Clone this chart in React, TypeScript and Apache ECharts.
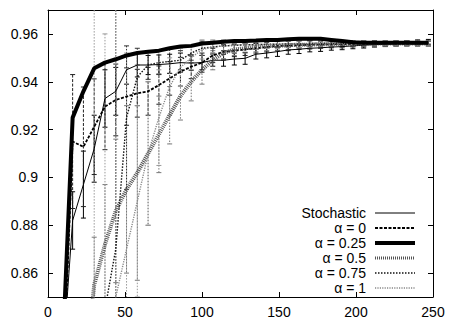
import React, { useEffect, useRef } from 'react';
import * as echarts from 'echarts';

const X = [9, 16, 23, 30, 37, 44, 51, 58, 65, 72, 79, 86, 93, 100, 107, 114, 121, 128, 135, 142, 149, 156, 163, 170, 177, 184, 191, 198, 205, 212, 219, 226, 233, 240, 247];

const STOCH = [0.818, 0.882, 0.897, 0.912, 0.933, 0.936, 0.945, 0.947, 0.947, 0.9472, 0.9475, 0.948, 0.9478, 0.948, 0.949, 0.949, 0.9495, 0.9498, 0.9515, 0.952, 0.9526, 0.9533, 0.9536, 0.954, 0.9542, 0.9545, 0.9547, 0.955, 0.9553, 0.9555, 0.9557, 0.956, 0.9562, 0.9565, 0.9567];
const STOCH_ERR = [0, 0.012, 0.014, 0.014, 0.012, 0.01, 0.006, 0.005, 0.004, 0.004, 0.004, 0.004, 0.003, 0.003, 0.0025, 0.0025, 0.0025, 0.0025, 0.002, 0.002, 0.002, 0.0018, 0.0018, 0.0015, 0.0015, 0.0013, 0.0013, 0.0012, 0.0012, 0.001, 0.001, 0.001, 0.001, 0.001, 0.001];

const A0 = [0.80, 0.915, 0.9128, 0.9212, 0.9296, 0.9324, 0.9338, 0.9352, 0.936, 0.9386, 0.9414, 0.9442, 0.9463, 0.948, 0.951, 0.9525, 0.953, 0.9535, 0.954, 0.9545, 0.955, 0.955, 0.9553, 0.9555, 0.9555, 0.9557, 0.9557, 0.9558, 0.9558, 0.956, 0.956, 0.956, 0.956, 0.956, 0.956];
const A0_ERR = [0, 0.028, 0.025, 0.02, 0.018, 0.015, 0.012, 0.01, 0.01, 0.008, 0.007, 0.006, 0.005, 0.004, 0.003, 0.003, 0.0025, 0.0025, 0.002, 0.002, 0.002, 0.002, 0.0018, 0.0018, 0.0015, 0.0015, 0.0015, 0.0012, 0.0012, 0.0012, 0.001, 0.001, 0.001, 0.001, 0.001];

const A025 = [0.82, 0.925, 0.936, 0.9456, 0.948, 0.9494, 0.951, 0.952, 0.9525, 0.953, 0.954, 0.9547, 0.955, 0.956, 0.9563, 0.9567, 0.957, 0.957, 0.9572, 0.9575, 0.9575, 0.9578, 0.958, 0.958, 0.958, 0.9575, 0.957, 0.9565, 0.9563, 0.9563, 0.9563, 0.9563, 0.9563, 0.9563, 0.9563];

const A05 = [0.72, 0.76, 0.81, 0.855, 0.872, 0.886, 0.895, 0.902, 0.91, 0.918, 0.926, 0.934, 0.94, 0.945, 0.949, 0.952, 0.9535, 0.954, 0.9545, 0.955, 0.955, 0.9553, 0.9555, 0.9555, 0.9557, 0.9557, 0.9558, 0.9558, 0.956, 0.956, 0.956, 0.956, 0.956, 0.956, 0.956];
const A05_ERR = [0, 0, 0.02, 0.02, 0.025, 0.03, 0.035, 0.045, 0.03, 0.016, 0.012, 0.01, 0.008, 0.006, 0.004, 0.003, 0.0025, 0.002, 0.002, 0.002, 0.0018, 0.0018, 0.0015, 0.0015, 0.0015, 0.0012, 0.0012, 0.0012, 0.001, 0.001, 0.001, 0.001, 0.001, 0.001, 0.001];

const A075 = [0.70, 0.75, 0.78, 0.82, 0.845, 0.87, 0.925, 0.942, 0.947, 0.948, 0.9485, 0.949, 0.952, 0.954, 0.9545, 0.955, 0.9552, 0.9555, 0.9555, 0.9557, 0.9557, 0.9558, 0.9558, 0.956, 0.956, 0.956, 0.956, 0.956, 0.956, 0.956, 0.956, 0.956, 0.956, 0.956, 0.956];
const A075_ERR = [0, 0, 0, 0, 0, 0.11, 0.03, 0.012, 0.006, 0.005, 0.005, 0.004, 0.003, 0.003, 0.0025, 0.002, 0.002, 0.002, 0.0018, 0.0018, 0.0015, 0.0015, 0.0015, 0.0012, 0.0012, 0.0012, 0.001, 0.001, 0.001, 0.001, 0.001, 0.001, 0.001, 0.001, 0.001];

const A1 = [0.70, 0.72, 0.75, 0.78, 0.82, 0.85, 0.87, 0.89, 0.91, 0.925, 0.938, 0.946, 0.95, 0.9535, 0.9545, 0.955, 0.9553, 0.9555, 0.9555, 0.9557, 0.9557, 0.9558, 0.9558, 0.956, 0.956, 0.956, 0.956, 0.956, 0.956, 0.956, 0.956, 0.956, 0.956, 0.956, 0.956];
const A1_ERR = [0, 0, 0, 0.2, 0.14, 0.13, 0.082, 0.04, 0.03, 0.02, 0.012, 0.008, 0.005, 0.004, 0.003, 0.0025, 0.002, 0.002, 0.002, 0.0018, 0.0018, 0.0015, 0.0015, 0.0015, 0.0012, 0.0012, 0.0012, 0.001, 0.001, 0.001, 0.001, 0.001, 0.001, 0.001, 0.001];

const Y_TICKS = [0.86, 0.88, 0.9, 0.92, 0.94, 0.96];
const X_MIN = 0, X_MAX = 250, X_STEP = 50;
const Y_MIN = 0.85, Y_MAX = 0.97;

const FONT = '"Liberation Sans", Arial, Helvetica, sans-serif';

type Sty = { name: string; values: number[]; err: number[] | null; color: string; errColor: string; width: number; dash: number[] | null; legendWidth: number };

const SERIES: Sty[] = [
  { name: 'Stochastic', values: STOCH, err: STOCH_ERR, color: '#000', errColor: '#000', width: 1, dash: null, legendWidth: 1 },
  { name: 'α = 0', values: A0, err: A0_ERR, color: '#000', errColor: '#222', width: 1.8, dash: [3, 1.5], legendWidth: 2 },
  { name: 'α = 0.25', values: A025, err: null, color: '#000', errColor: '#000', width: 4, dash: null, legendWidth: 4 },
  { name: 'α = 0.5', values: A05, err: A05_ERR, color: '#555', errColor: '#777', width: 4, dash: [1, 1], legendWidth: 3 },
  { name: 'α = 0.75', values: A075, err: A075_ERR, color: '#111', errColor: '#333', width: 1.4, dash: [1.5, 1.5], legendWidth: 1.5 },
  { name: 'α = 1', values: A1, err: A1_ERR, color: '#888', errColor: '#999', width: 1.4, dash: [1.2, 1.2], legendWidth: 1.5 },
];

function buildOption() {
  const series: any[] = [];
  SERIES.forEach((s) => {
    if (s.err) {
      series.push({
        name: s.name + ' err',
        type: 'custom',
        clip: true,
        silent: true,
        xAxisIndex: 0,
        yAxisIndex: 0,
        data: X.map((x, i) => [x, s.values[i], s.err![i]]),
        encode: { x: 0, y: 1 },
        renderItem: (params: any, api: any) => {
          const x = api.value(0);
          const v = api.value(1);
          const e = api.value(2);
          if (!e) return null;
          const top = api.coord([x, v + e]);
          const bot = api.coord([x, v - e]);
          const cap = 2.5;
          const style: any = { stroke: s.errColor, lineWidth: 1, fill: 'none' };
          if (s.dash) style.lineDash = s.dash.map((d) => Math.max(d, 1.5));
          const capStyle: any = { stroke: s.errColor, lineWidth: 1 };
          return {
            type: 'group',
            children: [
              { type: 'line', shape: { x1: top[0], y1: top[1], x2: bot[0], y2: bot[1] }, style },
              { type: 'line', shape: { x1: top[0] - cap, y1: top[1], x2: top[0] + cap, y2: top[1] }, style: capStyle },
              { type: 'line', shape: { x1: bot[0] - cap, y1: bot[1], x2: bot[0] + cap, y2: bot[1] }, style: capStyle },
            ],
          };
        },
      });
    }
  });
  SERIES.forEach((s) => {
    series.push({
      name: s.name,
      type: 'line',
      xAxisIndex: 0,
      yAxisIndex: 0,
      symbol: 'none',
      showSymbol: false,
      clip: true,
      data: X.map((x, i) => [x, s.values[i]]),
      lineStyle: { color: s.color, width: s.width, type: s.dash ? s.dash : 'solid', cap: 'butt' },
      itemStyle: { color: s.color },
      z: s.width >= 4 && s.color === '#000' ? 4 : 3,
    });
  });

  const axisLineStyle = { lineStyle: { color: '#000', width: 1 } };
  const tickStyle = { inside: true, length: 5, lineStyle: { color: '#000', width: 1 } };

  return {
    animation: false,
    backgroundColor: '#fff',
    grid: { left: 48, top: 10, right: 16, bottom: 22, containLabel: false },
    xAxis: [
      {
        type: 'value', position: 'bottom', min: X_MIN, max: X_MAX, interval: X_STEP,
        axisLine: { show: true, onZero: false, ...axisLineStyle },
        axisTick: { show: true, ...tickStyle },
        axisLabel: { show: true, color: '#000', fontSize: 14, fontFamily: FONT, margin: 8 },
        splitLine: { show: false },
      },
      {
        type: 'value', position: 'top', min: X_MIN, max: X_MAX, interval: X_STEP,
        axisLine: { show: true, onZero: false, ...axisLineStyle },
        axisTick: { show: true, ...tickStyle },
        axisLabel: { show: false },
        splitLine: { show: false },
      },
    ],
    yAxis: [
      {
        type: 'value', position: 'left', min: Y_MIN, max: Y_MAX,
        axisLine: { show: true, onZero: false, ...axisLineStyle },
        axisTick: { show: true, ...tickStyle, customValues: Y_TICKS },
        axisLabel: {
          show: true, color: '#000', fontSize: 14, fontFamily: FONT, margin: 10,
          customValues: Y_TICKS,
          formatter: (v: number) => String(Number(v.toFixed(2))),
        },
        splitLine: { show: false },
      },
      {
        type: 'value', position: 'right', min: Y_MIN, max: Y_MAX,
        axisLine: { show: true, onZero: false, ...axisLineStyle },
        axisTick: { show: true, ...tickStyle, customValues: Y_TICKS },
        axisLabel: { show: false, customValues: Y_TICKS },
        splitLine: { show: false },
      },
    ],
    legend: {
      orient: 'vertical',
      right: 32,
      top: 206,
      padding: 0,
      align: 'right',
      itemWidth: 40,
      itemHeight: 14,
      itemGap: 1,
      selectedMode: false,
      textStyle: { fontSize: 14, color: '#000', fontFamily: FONT, lineHeight: 14, padding: [0, 4, 0, 0] },
      data: SERIES.map((s) => ({
        name: s.name,
        itemStyle: { opacity: 0 },
        lineStyle: { color: s.color, width: s.legendWidth, type: s.dash ? s.dash : 'solid', cap: 'butt', opacity: 1 },
      })),
    },
    series,
  };
}

export default function App() {
  const ref = useRef<HTMLDivElement>(null);
  useEffect(() => {
    if (!ref.current) return;
    const chart = echarts.init(ref.current, null, { renderer: 'svg' });
    chart.setOption(buildOption() as any);
    return () => chart.dispose();
  }, []);
  return (
    <div
      ref={ref}
      style={{ position: 'fixed', left: 0, top: 0, width: 449, height: 319, background: '#fff' }}
    />
  );
}
